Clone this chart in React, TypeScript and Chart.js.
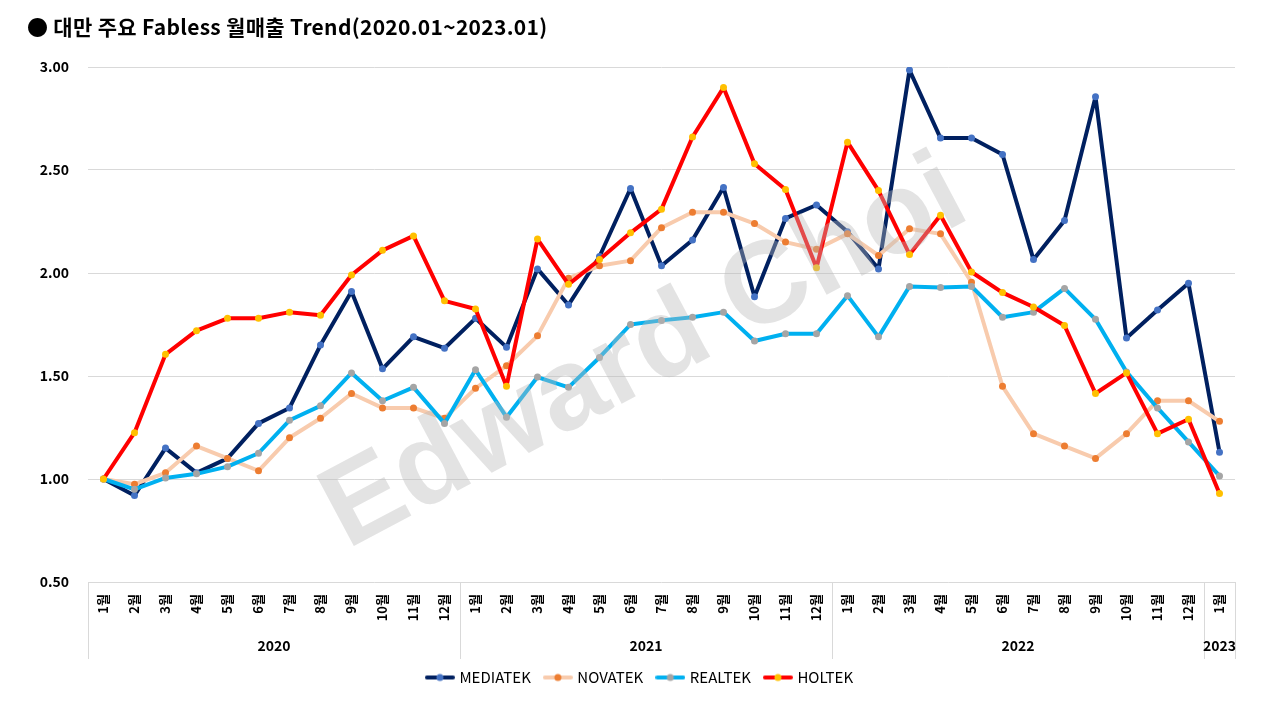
import React, { useEffect, useRef } from "react";
import { Chart, registerables } from "chart.js";

Chart.register(...registerables);

const TITLE = "● 대만 주요 Fabless 월매출 Trend(2020.01~2023.01)";

const MONTHS = [
  "1월", "2월", "3월", "4월", "5월", "6월", "7월", "8월", "9월", "10월", "11월", "12월",
  "1월", "2월", "3월", "4월", "5월", "6월", "7월", "8월", "9월", "10월", "11월", "12월",
  "1월", "2월", "3월", "4월", "5월", "6월", "7월", "8월", "9월", "10월", "11월", "12월",
  "1월",
];

const YEARS = ["2020", "2021", "2022", "2023"];
const YEAR_START = [0, 12, 24, 36];
const YEAR_END = [12, 24, 36, 37];

const MEDIATEK = [
  1.0, 0.92, 1.15, 1.03, 1.1, 1.27, 1.345, 1.65, 1.91, 1.535, 1.69, 1.635,
  1.78, 1.64, 2.02, 1.845, 2.08, 2.41, 2.035, 2.16, 2.415, 1.885, 2.265, 2.33,
  2.2, 2.02, 2.985, 2.655, 2.655, 2.575, 2.065, 2.255, 2.855, 1.685, 1.82, 1.95,
  1.13,
];
const NOVATEK = [
  1.0, 0.975, 1.03, 1.16, 1.1, 1.04, 1.2, 1.295, 1.415, 1.345, 1.345, 1.295,
  1.44, 1.55, 1.695, 1.975, 2.035, 2.06, 2.22, 2.295, 2.295, 2.24, 2.15, 2.115,
  2.19, 2.085, 2.215, 2.19, 1.955, 1.45, 1.22, 1.16, 1.1, 1.22, 1.38, 1.38,
  1.28,
];
const REALTEK = [
  1.0, 0.95, 1.005, 1.025, 1.06, 1.125, 1.285, 1.355, 1.515, 1.38, 1.445, 1.27,
  1.53, 1.3, 1.495, 1.445, 1.59, 1.75, 1.77, 1.785, 1.81, 1.67, 1.705, 1.705,
  1.89, 1.69, 1.935, 1.93, 1.935, 1.785, 1.81, 1.925, 1.775, 1.52, 1.345, 1.18,
  1.015,
];
const HOLTEK = [
  1.0, 1.225, 1.605, 1.72, 1.78, 1.78, 1.81, 1.795, 1.99, 2.11, 2.18, 1.865,
  1.825, 1.45, 2.165, 1.945, 2.065, 2.195, 2.31, 2.66, 2.9, 2.53, 2.405, 2.025,
  2.635, 2.4, 2.09, 2.28, 2.005, 1.905, 1.835, 1.745, 1.415, 1.515, 1.22, 1.29,
  0.93,
];

const SERIES = [
  { name: "MEDIATEK", data: MEDIATEK, line: "#002060", point: "#4472C4", order: 3 },
  { name: "NOVATEK", data: NOVATEK, line: "#F8CBAD", point: "#ED7D31", order: 2 },
  { name: "REALTEK", data: REALTEK, line: "#00B0F0", point: "#A5A5A5", order: 1 },
  { name: "HOLTEK", data: HOLTEK, line: "#FF0000", point: "#FFC000", order: 0 },
];

const FONT = "'Noto Sans CJK KR', 'Noto Sans', sans-serif";

function makeMarker(line: string, point: string): HTMLCanvasElement {
  const c = document.createElement("canvas");
  c.width = 30;
  c.height = 10;
  const ctx = c.getContext("2d")!;
  ctx.strokeStyle = line;
  ctx.lineWidth = 4;
  ctx.lineCap = "round";
  ctx.beginPath();
  ctx.moveTo(2, 5);
  ctx.lineTo(28, 5);
  ctx.stroke();
  ctx.fillStyle = point;
  ctx.beginPath();
  ctx.arc(15, 5, 3.5, 0, Math.PI * 2);
  ctx.fill();
  return c;
}

const groupPlugin = {
  id: "yearGroups",
  beforeDraw(chart: any) {
    // centre the legend on the page rather than on the padded layout box
    if (chart.legend && !chart.legend._shifted) {
      chart.legend.left += 23;
      chart.legend.right += 23;
      chart.legend._shifted = true;
    }
  },
  afterDraw(chart: any) {
    const ctx = chart.ctx;
    const x = chart.scales.x;
    const area = chart.chartArea;
    const w = x.getPixelForValue(1) - x.getPixelForValue(0);
    const edge = (i: number) => x.getPixelForValue(i) - w / 2;
    ctx.save();
    ctx.strokeStyle = "#D9D9D9";
    ctx.lineWidth = 1;
    const bounds = [0, 12, 24, 36, 37];
    bounds.forEach((b) => {
      const px = Math.round(edge(b)) + 0.5;
      ctx.beginPath();
      ctx.moveTo(px, area.bottom);
      ctx.lineTo(px, area.bottom + 77);
      ctx.stroke();
    });
    ctx.fillStyle = "#000";
    ctx.font = `bold 14px ${FONT}`;
    ctx.textAlign = "center";
    ctx.textBaseline = "middle";
    YEARS.forEach((y, i) => {
      const cx = (edge(YEAR_START[i]) + edge(YEAR_END[i])) / 2;
      ctx.fillText(y, cx, area.bottom + 64);
    });
    // watermark
    ctx.translate(645, 355);
    ctx.rotate((-28 * Math.PI) / 180);
    ctx.font = "bold 116px 'Liberation Sans', Arial, sans-serif";
    ctx.fillStyle = "rgba(185,185,185,0.4)";
    ctx.textAlign = "center";
    ctx.textBaseline = "middle";
    ctx.fillText("Edward Choi", 0, 0);
    ctx.restore();
  },
};

export default function App() {
  const ref = useRef<HTMLCanvasElement>(null);
  useEffect(() => {
    document.body.style.margin = "0";
    const markers = SERIES.map((s) => makeMarker(s.line, s.point));
    const chart = new Chart(ref.current!, {
      type: "line",
      data: {
        labels: MONTHS,
        datasets: SERIES.map((s) => ({
          label: s.name,
          data: s.data,
          borderColor: s.line,
          backgroundColor: s.point,
          borderWidth: 4,
          borderJoinStyle: "round",
          pointRadius: 3.5,
          pointBorderWidth: 0,
          pointBackgroundColor: s.point,
          pointBorderColor: s.point,
          tension: 0,
          order: s.order,
        })),
      },
      options: {
        animation: false,
        responsive: false,
        maintainAspectRatio: false,
        layout: { padding: { left: 0, right: 45, top: 67, bottom: 25 } },
        plugins: {
          tooltip: { enabled: false },
          title: { display: false },
          legend: {
            position: "bottom",
            labels: {
              usePointStyle: true,
              pointStyleWidth: 24,
              padding: 15,
              color: "#000",
              font: { family: FONT, size: 15 },
              generateLabels: (ch: any) => {
                const items = (Chart as any).defaults.plugins.legend.labels.generateLabels(ch);
                items.sort((a: any, b: any) => a.datasetIndex - b.datasetIndex);
                return items.map((it: any) => ({ ...it, pointStyle: markers[it.datasetIndex] }));
              },
            },
          },
        },
        scales: {
          x: {
            offset: true,
            grid: { display: false, offset: true },
            border: { display: false },
            ticks: {
              autoSkip: false,
              maxRotation: 90,
              minRotation: 90,
              padding: 4,
              color: "#000",
              font: { family: FONT, size: 13, weight: "bold" },
            },
            afterFit: (s: any) => {
              s.height = 73;
            },
          },
          y: {
            min: 0.5,
            max: 3.0,
            grid: { color: "#D9D9D9", drawTicks: false },
            border: { display: false },
            ticks: {
              stepSize: 0.5,
              padding: 19,
              color: "#000",
              font: { family: FONT, size: 14, weight: "bold" },
              callback: (v: any) => Number(v).toFixed(2),
            },
            afterFit: (s: any) => {
              s.width = 88;
            },
          },
        },
      },
      plugins: [groupPlugin],
    } as any);
    return () => chart.destroy();
  }, []);
  return (
    <div style={{ position: "absolute", left: 0, top: 0, width: 1280, height: 720, background: "#fff" }}>
      <div
        style={{
          position: "absolute",
          left: 27,
          top: 11,
          lineHeight: "30px",
          fontFamily: FONT,
          fontWeight: "bold",
          fontSize: 21,
          letterSpacing: "0.3px",
          color: "#000",
          whiteSpace: "nowrap",
        }}
      >
        {TITLE}
      </div>
      <canvas ref={ref} width={1280} height={720} style={{ display: "block" }} />
    </div>
  );
}
